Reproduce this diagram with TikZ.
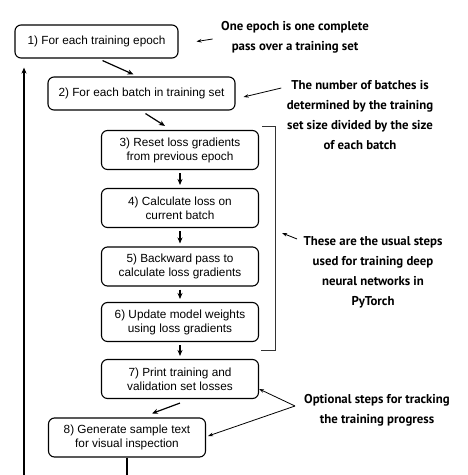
\documentclass[tikz,border=0pt]{standalone}
\usepackage{fontspec}
\setmainfont{Liberation Sans}
\newfontfamily\notefont{PT Sans}
\usetikzlibrary{arrows.meta,positioning}

\begin{document}
\begin{tikzpicture}[x=1pt, y=-1pt, >={Stealth[length=6pt,width=5pt]},
  stepbox/.style={rectangle, rounded corners=6pt, draw=black, line width=1.1pt, align=center,
    inner sep=0pt, font=\fontsize{11.8}{14}\selectfont},
  flow/.style={->, line width=1.2pt},
  note/.style={align=center, font=\notefont\bfseries\fontsize{12.8}{20}\selectfont},
  pointer/.style={->, line width=0.8pt, >={Stealth[length=5pt,width=3.5pt]}}]
\useasboundingbox (0,0) rectangle (468,475);
% loop body
\node[stepbox, minimum width=163pt, minimum height=33pt] (b1) at (96.5,41.5) {1) For each training epoch};
\node[stepbox, minimum width=187pt, minimum height=33pt] (b2) at (141.5,93.5) {2) For each batch in training set};
\node[stepbox, minimum width=157pt, minimum height=39pt] (b3) at (180,150) {3) Reset loss gradients\\from previous epoch};
\node[stepbox, minimum width=157pt, minimum height=39pt] (b4) at (180,208) {4) Calculate loss on\\current batch};
\node[stepbox, minimum width=157pt, minimum height=39pt] (b5) at (180,266.5) {5) Backward pass to\\calculate loss gradients};
\node[stepbox, minimum width=157pt, minimum height=39pt] (b6) at (180,322) {6) Update model weights\\using loss gradients};
\node[stepbox, minimum width=157pt, minimum height=39pt] (b7) at (180,379) {7) Print training and\\validation set losses};
\node[stepbox, minimum width=157pt, minimum height=39pt] (b8) at (127,437.5) {8) Generate sample text\\for visual inspection};
\draw[flow] ([xshift=6pt,yshift=-2pt]b1.south) -- ([xshift=-8pt,yshift=2pt]b2.north);
\draw[flow] ([xshift=4pt,yshift=-3pt]b2.south) -- ([xshift=-15pt,yshift=4pt]b3.north);
\foreach \a/\b in {b3/b4, b4/b5, b5/b6, b6/b7}
  \draw[flow, shorten <=3pt, shorten >=3pt] (\a) -- (\b);
\draw[flow] ([yshift=-4pt]b7.south) -- ([xshift=25pt,yshift=4pt]b8.north);
% back to the top
\coordinate (bot) at (24,475);
\draw[line width=1.2pt] (b8.south) -- (b8.south |- bot);
\draw[flow, shorten >=9pt] (bot) -- (bot |- b1.south);
% bracket
\draw[line width=0.9pt, black!80] (262,126) -- (275,126) -- (275,350) -- (261,350);
% notes
\node[note] (n1) at (295,37) {One epoch is one complete\\pass over a training set};
\node[note] (n2) at (360,115) {The number of batches is\\determined by the training\\set size divided by the size\\of each batch};
\node[note] (n3) at (373,272) {These are the usual steps\\used for training deep\\neural networks in\\PyTorch};
\node[note] (n4) at (377,410) {Optional steps for tracking\\the training progress};
\coordinate (t4) at (295,406);
\draw[pointer] ([xshift=-5pt,yshift=-2pt]n1.west) -- ([xshift=18pt]b1.east);
\draw[pointer] ([xshift=-2pt,yshift=27pt]n2.west) -- ([xshift=8pt,yshift=-3.5pt]b2.east);
\draw[pointer] ([xshift=-3pt,yshift=33pt]n3.west) -- ([xshift=-18pt,yshift=39pt]n3.west);
\draw[pointer] (t4) -- ([yshift=-10pt]b7.east);
\draw[pointer] (t4) -- ([xshift=2pt,yshift=1.5pt]b8.east);
\end{tikzpicture}
\end{document}
